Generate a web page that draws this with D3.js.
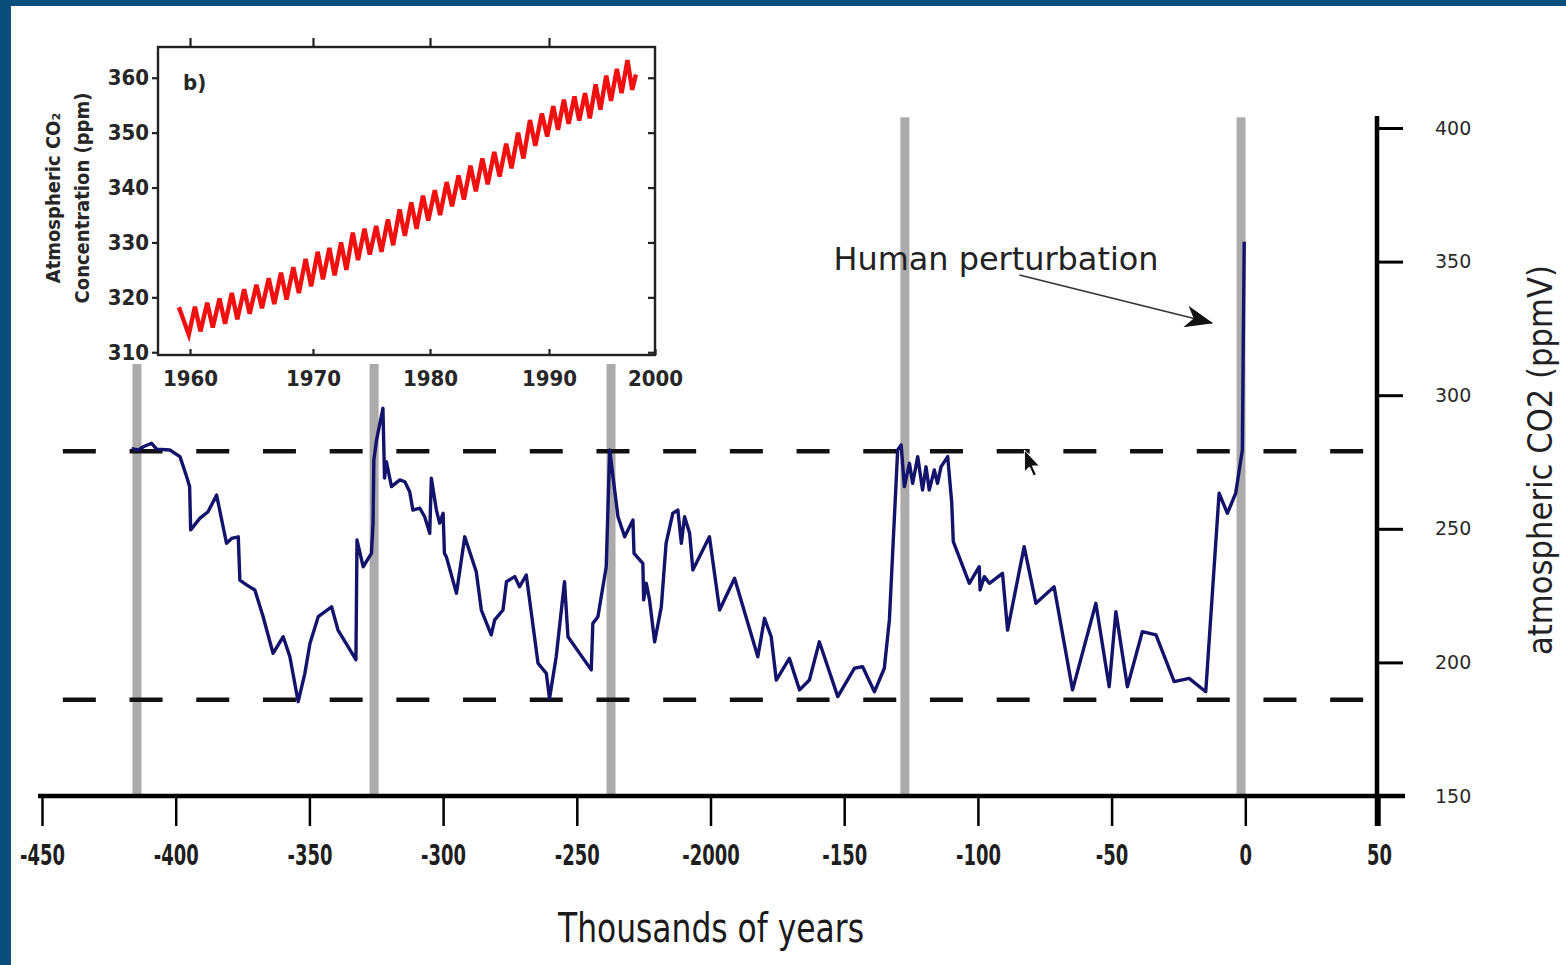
<!DOCTYPE html>
<html>
<head>
<meta charset="utf-8">
<script src="https://cdn.jsdelivr.net/npm/d3@7"></script>
<style>
  body { margin: 0; background: #fff; }
  svg text { font-family: "Liberation Sans Narrow", "DejaVu Sans Condensed", "Liberation Sans", sans-serif; }
</style>
</head>
<body>
<div id="chart-area"></div>
<script>
const WIDTH = 1566;
const HEIGHT = 965;

// Vostok ice core: time (thousands of years) and CO2 (ppmV)
const kyr = [-416.5, -414.0, -412.1, -409.0, -407.1, -402.2, -398.4, -395.9, -394.8, -394.4,
  -391.0, -387.9, -384.7, -381.0, -379.1, -376.6, -376.0, -373.5, -370.4, -367.3,
  -363.6, -359.8, -357.3, -354.2, -351.7, -349.8, -346.7, -341.7, -339.3, -332.6,
  -332.2, -329.9, -326.8, -326.2, -325.9, -324.9, -322.5, -321.9, -321.2, -319.3,
  -316.2, -314.3, -312.5, -311.3, -308.7, -306.9, -305.0, -304.4, -302.5, -301.3,
  -300.0, -299.5, -298.8, -295.0, -291.9, -287.6, -285.7, -282.0, -280.7, -277.6,
  -276.3, -273.2, -271.4, -268.9, -264.5, -261.4, -260.2, -257.7, -254.6, -253.3,
  -244.6, -244.0, -242.1, -239.0, -237.7, -234.6, -232.1, -229.0, -228.6, -225.3,
  -225.0, -224.0, -222.8, -220.9, -218.4, -216.6, -214.1, -212.2, -210.9, -209.7,
  -207.8, -206.6, -200.4, -196.6, -191.0, -182.3, -179.8, -177.3, -175.4, -170.5,
  -166.7, -163.0, -159.3, -152.4, -146.2, -143.1, -138.7, -135.0, -133.1, -130.0,
  -128.7, -127.5, -125.6, -124.4, -122.5, -120.7, -119.4, -118.2, -116.3, -115.1,
  -113.8, -111.3, -109.8, -109.2, -103.2, -99.5, -99.2, -97.6, -95.7, -90.8,
  -88.9, -82.7, -78.3, -71.5, -64.6, -55.9, -50.9, -48.4, -44.1, -38.5,
  -33.4, -26.6, -21.0, -14.8, -9.8, -6.7, -3.6, -1.1, -0.8, -0.4];
const co2 = [280, 279.5, 280.7, 282, 279.8, 279.5, 277, 269.5, 265.8, 249.6,
  253.9, 256.4, 262.6, 244.6, 246.4, 247, 230.8, 229, 227.1, 217.1,
  203.4, 209.6, 202.1, 185.3, 195.9, 207.1, 217.1, 220.8, 212.1, 201,
  245.8, 235.8, 240.8, 252.1, 275.7, 283.2, 295.1, 269, 275.1, 265.8,
  268.3, 267.6, 263.9, 257, 257.7, 254.5, 248.3, 268.9, 257, 252.1,
  255.8, 240.8, 239.6, 225.9, 247, 233.9, 219.6, 210.3, 215.9, 219.6,
  230.2, 232.1, 228.3, 232.7, 199.7, 195.9, 186.5, 202.1, 230.2, 209.6,
  197.2, 214.6, 217.1, 235.8, 279.5, 254.5, 247, 253.3, 240.8, 237.1,
  223.4, 229.6, 223.4, 207.7, 220.8, 244.6, 255.8, 257, 244.6, 254.5,
  248.3, 234.6, 247, 219.6, 231.5, 202.1, 216.5, 209.6, 193.4, 201.5,
  189.7, 193.4, 207.7, 187.2, 197.8, 198.4, 189, 197.8, 215.9, 279.5,
  281.4, 265.8, 274.5, 267, 277, 264.5, 273.2, 264.5, 272, 267,
  273.2, 277, 260, 245.2, 229.6, 235.8, 227.1, 232.1, 229.6, 233.3,
  212.1, 243.3, 222.1, 228.3, 189.7, 222.1, 190.9, 219, 190.9, 211.5,
  210.3, 192.8, 194, 189, 263.3, 255.8, 263.3, 279.5, 315.7, 357.4];

const glacialBars = [-414.5, -325.8, -237.2, -127.3, -1.6];
const refLevels = [279, 186];
const refSpan = [-442.2, 44.8];
const xTicks = [-450, -400, -350, -300, -250, -200, -150, -100, -50, 0, 50];
const xTickLabels = ["-450", "-400", "-350", "-300", "-250", "-2000", "-150", "-100", "-50", "0", "50"];
const yTicks = [150, 200, 250, 300, 350, 400];

// inset b): Mauna Loa record, time (year) and CO2 (ppm)
const insetTime = [1959.1, 1959.9,
  1960.4, 1960.85, 1961.4, 1961.85, 1962.4, 1962.85, 1963.4, 1963.85, 1964.4, 1964.85,
  1965.4, 1965.85, 1966.4, 1966.85, 1967.4, 1967.85, 1968.4, 1968.85, 1969.4, 1969.85,
  1970.4, 1970.85, 1971.4, 1971.85, 1972.4, 1972.85, 1973.4, 1973.85, 1974.4, 1974.85,
  1975.4, 1975.85, 1976.4, 1976.85, 1977.4, 1977.85, 1978.4, 1978.85, 1979.4, 1979.85,
  1980.4, 1980.85, 1981.4, 1981.85, 1982.4, 1982.85, 1983.4, 1983.85, 1984.4, 1984.85,
  1985.4, 1985.85, 1986.4, 1986.85, 1987.4, 1987.85, 1988.4, 1988.85, 1989.4, 1989.85,
  1990.4, 1990.85, 1991.4, 1991.85, 1992.4, 1992.85, 1993.4, 1993.85, 1994.4, 1994.85,
  1995.4, 1995.85, 1996.4, 1996.85, 1997.4, 1997.85, 1998.2];
const insetCO2 = [318.2, 313.2,
  318.3, 313.8, 319, 314.5, 319.8, 315.2, 320.8, 316, 321.5, 317,
  322.3, 318, 323.5, 318.8, 324.5, 319.6, 325.5, 320.8, 327, 322,
  328.3, 323.3, 329, 324, 330, 325, 331.8, 326.8, 332.5, 327.8,
  333, 328.3, 334.2, 329.5, 336, 331.2, 337.3, 332.5, 338.5, 334,
  339.5, 335, 341, 336.6, 342.2, 337.8, 344, 339.3, 345.3, 340.6,
  346.5, 342, 348, 343.5, 350, 345.3, 352.3, 347.6, 353.5, 349.3,
  354.8, 350.5, 356, 351.6, 356.6, 352.2, 357.2, 352.6, 358.8, 354.2,
  360.4, 355.8, 361.6, 357.2, 363.2, 357.8, 360.6];
const insetXTicks = [1960, 1970, 1980, 1990, 2000];
const insetYTicks = [310, 320, 330, 340, 350, 360];

const svg = d3.select("#chart-area").append("svg")
  .attr("width", WIDTH)
  .attr("height", HEIGHT)
  .style("display", "block");

svg.append("rect").attr("width", WIDTH).attr("height", HEIGHT).attr("fill", "#fff");

const x = d3.scaleLinear().domain([-450, 50]).range([42, 1379]);
const y = d3.scaleLinear().domain([150, 400]).range([796, 128]);

// grey interglacial bars
svg.selectAll(".bar").data(glacialBars).enter().append("rect")
  .attr("class", "bar")
  .attr("x", d => x(d) - 4.5)
  .attr("width", 9)
  .attr("y", y(404))
  .attr("height", y(150) - y(404))
  .attr("fill", "#ababab");

// dashed reference levels
svg.selectAll(".ref").data(refLevels).enter().append("line")
  .attr("class", "ref")
  .attr("x1", x(refSpan[0]))
  .attr("x2", x(refSpan[1]))
  .attr("y1", d => y(d))
  .attr("y2", d => y(d))
  .attr("stroke", "#111")
  .attr("stroke-width", 4.5)
  .attr("stroke-dasharray", "33,33.7");

// CO2 record
const line = d3.line()
  .x((d, i) => x(kyr[i]))
  .y(d => y(d));

svg.append("path")
  .datum(co2)
  .attr("d", line)
  .attr("fill", "none")
  .attr("stroke", "#13136b")
  .attr("stroke-width", 3.4)
  .attr("stroke-linejoin", "round");

// x axis
const xAxisCall = d3.axisBottom(x)
  .tickValues(xTicks)
  .tickSize(30)
  .tickSizeOuter(0)
  .tickPadding(17)
  .tickFormat((d, i) => xTickLabels[i]);

const gx = svg.append("g")
  .attr("transform", `translate(0, ${y(150)})`)
  .call(xAxisCall);
gx.select(".domain").remove();
gx.selectAll("line").attr("stroke", "#000").attr("stroke-width", 2.5);
gx.selectAll("text")
  .attr("transform", "scale(0.74, 1.05)")
  .style("font-size", "27px")
  .style("font-weight", "bold")
  .style("fill", "#1e1e1e");

svg.append("line")
  .attr("x1", x(-451.5)).attr("x2", x(50) + 26)
  .attr("y1", y(150)).attr("y2", y(150))
  .attr("stroke", "#000").attr("stroke-width", 4.5);

// y axis (right)
const yAxisCall = d3.axisRight(y)
  .tickValues(yTicks)
  .tickSize(26)
  .tickSizeOuter(0)
  .tickPadding(32)
  .tickFormat(d3.format("d"));

const gy = svg.append("g")
  .attr("transform", `translate(${x(50) - 2}, 0)`)
  .call(yAxisCall);
gy.select(".domain").remove();
gy.selectAll("line").attr("stroke", "#000").attr("stroke-width", 3);
gy.selectAll("text")
  .style("font-family", "'DejaVu Sans', sans-serif")
  .style("font-size", "19px")
  .style("fill", "#2a2a2a");

svg.append("line")
  .attr("x1", x(50) - 2).attr("x2", x(50) - 2)
  .attr("y1", y(404.5)).attr("y2", y(150) + 30)
  .attr("stroke", "#000").attr("stroke-width", 4.5);

svg.append("text")
  .attr("transform", `translate(1552, 460) rotate(-90)`)
  .attr("text-anchor", "middle")
  .attr("textLength", 390)
  .attr("lengthAdjust", "spacingAndGlyphs")
  .style("font-size", "33px")
  .style("fill", "#222")
  .text("atmospheric CO2 (ppmV)");

svg.append("text")
  .attr("x", 711)
  .attr("y", 942)
  .attr("text-anchor", "middle")
  .attr("textLength", 306)
  .attr("lengthAdjust", "spacingAndGlyphs")
  .style("font-size", "40px")
  .style("fill", "#1a1a1a")
  .text("Thousands of years");

// annotation
svg.append("defs").append("marker")
  .attr("id", "head")
  .attr("viewBox", "0 0 28 22")
  .attr("refX", 27).attr("refY", 11)
  .attr("markerWidth", 28).attr("markerHeight", 22)
  .attr("markerUnits", "userSpaceOnUse")
  .attr("orient", "auto")
  .append("path")
  .attr("d", "M0,0 L28,11 L0,22 L8,11 Z")
  .attr("fill", "#111");

svg.append("text")
  .attr("x", x(-154))
  .attr("y", y(347))
  .attr("textLength", 325)
  .attr("lengthAdjust", "spacingAndGlyphs")
  .style("font-family", "'DejaVu Sans', sans-serif")
  .style("font-size", "32px")
  .style("fill", "#222")
  .text("Human perturbation");

svg.append("line")
  .attr("x1", x(-84.5)).attr("y1", y(345))
  .attr("x2", x(-12.4)).attr("y2", y(327))
  .attr("stroke", "#333")
  .attr("stroke-width", 1.6)
  .attr("marker-end", "url(#head)");

// mouse pointer left on the screenshot
svg.append("path")
  .attr("transform", `translate(${x(-82.6)}, ${y(279.5)})`)
  .attr("d", "M0,0 L0,22 L5,17 L9,26 L12,24.5 L8,16 L15,16 Z")
  .attr("fill", "#111")
  .attr("stroke", "#fff")
  .attr("stroke-width", 1);

// ---------- inset ----------
const insetX = d3.scaleLinear()
  .domain([1957.4, 1960, 1970, 1980, 1990, 2000])
  .range([158, 190, 313, 430, 549, 655]);
const insetY = d3.scaleLinear().domain([309.5, 365.6]).range([355, 47]);

svg.append("rect")
  .attr("x", 12).attr("y", 6)
  .attr("width", 690).attr("height", 358)
  .attr("fill", "#fff");

const inset = svg.append("g");

inset.append("path")
  .datum(insetCO2)
  .attr("d", d3.line().x((d, i) => insetX(insetTime[i])).y(d => insetY(d)))
  .attr("fill", "none")
  .attr("stroke", "#f01010")
  .attr("stroke-width", 4.4)
  .attr("stroke-linejoin", "miter");

const ib = inset.append("g")
  .attr("transform", `translate(0, ${insetY(309.5)})`)
  .call(d3.axisBottom(insetX).tickValues(insetXTicks).tickSize(-6).tickSizeOuter(0).tickPadding(15).tickFormat(d3.format("d")));
const it = inset.append("g")
  .attr("transform", `translate(0, ${insetY(365.6)})`)
  .call(d3.axisTop(insetX).tickValues(insetXTicks.slice(0, 4)).tickSize(9).tickSizeOuter(0).tickFormat(""));
const il = inset.append("g")
  .attr("transform", `translate(${insetX(1957.4)}, 0)`)
  .call(d3.axisLeft(insetY).tickValues(insetYTicks).tickSize(6).tickSizeOuter(0).tickPadding(3).tickFormat(d3.format("d")));
const ir = inset.append("g")
  .attr("transform", `translate(${insetX(2000)}, 0)`)
  .call(d3.axisRight(insetY).tickValues(insetYTicks).tickSize(-7).tickSizeOuter(0).tickFormat(""));

[ib, it, il, ir].forEach(g => {
  g.select(".domain").remove();
  g.selectAll("line").attr("stroke", "#222").attr("stroke-width", 2.2);
  g.selectAll("text")
    .style("font-size", "22px")
    .style("font-weight", "bold")
    .style("fill", "#262626");
});

inset.append("rect")
  .attr("x", insetX(1957.4)).attr("y", insetY(365.6))
  .attr("width", insetX(2000) - insetX(1957.4))
  .attr("height", insetY(309.5) - insetY(365.6))
  .attr("fill", "none")
  .attr("stroke", "#222")
  .attr("stroke-width", 2.4);

inset.append("text")
  .attr("x", 183).attr("y", 90)
  .style("font-size", "22px")
  .style("font-weight", "bold")
  .style("fill", "#262626")
  .text("b)");

const insetTitle = inset.append("text")
  .attr("transform", "translate(60, 198) rotate(-90)")
  .attr("text-anchor", "middle")
  .style("font-size", "20px")
  .style("font-weight", "bold")
  .style("fill", "#262626");
insetTitle.append("tspan").attr("x", 0).attr("dy", 0).text("Atmospheric CO₂");
insetTitle.append("tspan").attr("x", 0).attr("dy", 29).text("Concentration (ppm)");

// frame of the slide
svg.append("rect").attr("x", 0).attr("y", 0).attr("width", 11).attr("height", HEIGHT).attr("fill", "#0b4d7b");
svg.append("rect").attr("x", 0).attr("y", 0).attr("width", WIDTH).attr("height", 6).attr("fill", "#0b4d7b");
</script>
</body>
</html>
